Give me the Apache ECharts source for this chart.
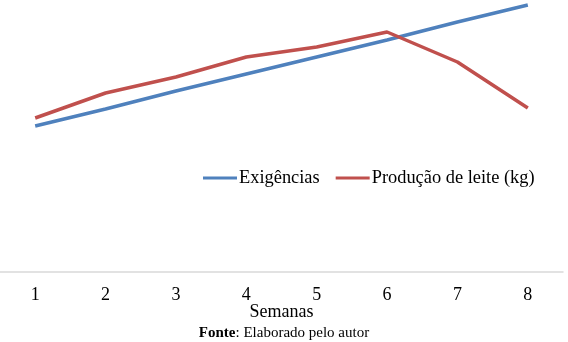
<!DOCTYPE html>
<html>
<head>
<meta charset="utf-8">
<script src="https://cdn.jsdelivr.net/npm/echarts@6/dist/echarts.min.js"></script>
<style>
  html, body { margin: 0; padding: 0; background: #fff; }
  #chart { width: 568px; height: 342px; }
</style>
</head>
<body>
<div id="chart"></div>
<script>
// Weeks on the horizontal axis
const semanas = ['1', '2', '3', '4', '5', '6', '7', '8'];
// Requirements per week
const exigencias = [14.6, 16.3, 18.1, 19.8, 21.5, 23.2, 25.0, 26.7];
// Milk production per week (kg)
const producaoLeite = [15.4, 17.9, 19.5, 21.5, 22.5, 24.0, 21.0, 16.4];

const serifFont = '"Liberation Serif", "Times New Roman", serif';

const chart = echarts.init(document.getElementById('chart'));
chart.setOption({
  animation: false,
  backgroundColor: '#ffffff',
  textStyle: { fontFamily: serifFont },
  grid: { left: 0, right: 5, top: 2, bottom: 70, containLabel: false },
  legend: {
    top: 164,
    left: 198,
    itemWidth: 34,
    itemHeight: 3,
    itemGap: 16,
    icon: 'rect',
    textStyle: { fontFamily: serifFont, fontSize: 18.4, color: '#000', padding: [0, 0, 0, -3] },
    data: ['Exigências', 'Produção de leite (kg)']
  },
  xAxis: {
    type: 'category',
    data: semanas,
    boundaryGap: true,
    axisLine: { show: true, lineStyle: { color: '#d9d9d9', width: 1.5 } },
    axisTick: { show: false },
    axisLabel: { fontFamily: serifFont, fontSize: 18, color: '#000', margin: 14 },
    name: 'Semanas',
    nameLocation: 'middle',
    nameMoveOverlap: false,
    nameGap: 31,
    nameTextStyle: { fontFamily: serifFont, fontSize: 18, color: '#000' }
  },
  yAxis: {
    type: 'value',
    min: 0,
    max: 27,
    show: false,
    splitLine: { show: false }
  },
  title: {
    text: '{b|Fonte}: Elaborado pelo autor',
    left: 'center',
    top: 326,
    padding: 0,
    textStyle: {
      fontFamily: serifFont,
      fontSize: 15,
      fontWeight: 'normal',
      color: '#000',
      rich: {
        b: { fontFamily: serifFont, fontSize: 15, fontWeight: 'bold', color: '#000' }
      }
    }
  },
  series: [
    {
      name: 'Exigências',
      type: 'line',
      data: exigencias,
      symbol: 'none',
      color: '#4f81bd',
      lineStyle: { width: 3.5, color: '#4f81bd' }
    },
    {
      name: 'Produção de leite (kg)',
      type: 'line',
      data: producaoLeite,
      symbol: 'none',
      color: '#c0504d',
      lineStyle: { width: 3.5, color: '#c0504d' }
    }
  ]
});
</script>
</body>
</html>
